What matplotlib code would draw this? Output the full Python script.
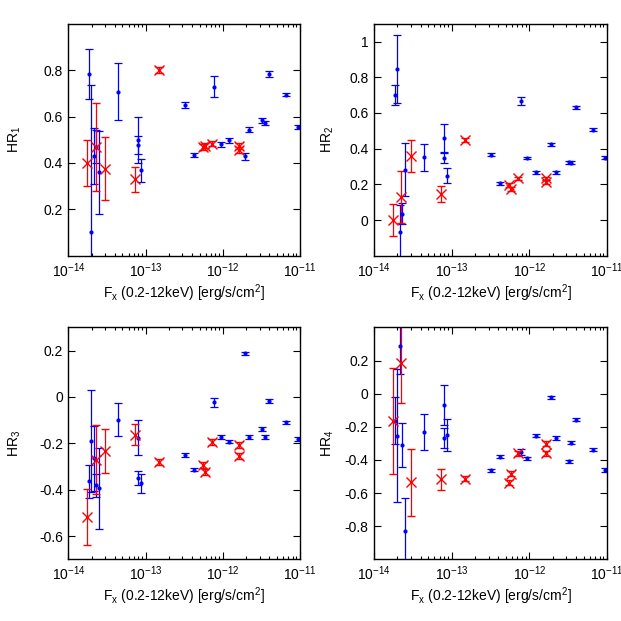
import numpy as np
import matplotlib
matplotlib.use("Agg")
import matplotlib.pyplot as plt
from matplotlib.ticker import LogLocator, FixedLocator, FuncFormatter, NullFormatter

"""
Hardness ratios vs. flux, four panels (HR1..HR4)
"""

plt.rcParams['font.family'] = ['Liberation Sans', 'DejaVu Sans']
plt.rcParams['font.size'] = 10
plt.rcParams['mathtext.fontset'] = 'custom'
plt.rcParams['mathtext.rm'] = 'Liberation Sans'
plt.rcParams['mathtext.it'] = 'Liberation Sans:italic'

# flux values (erg/s/cm2)
blue_flux = [1.86e-14, 1.95e-14, 2.16e-14, 2.26e-14, 2.47e-14, 4.37e-14, 7.94e-14, 7.94e-14,
             8.71e-14, 3.24e-13, 4.22e-13, 7.76e-13, 9.33e-13, 1.21e-12, 1.92e-12, 2.19e-12,
             3.24e-12, 3.47e-12, 3.94e-12, 6.61e-12, 9.44e-12]
red_flux = [1.74e-14, 2.24e-14, 2.95e-14, 7.24e-14, 1.48e-13, 5.50e-13, 5.82e-13, 7.24e-13,
            1.62e-12, 1.62e-12]

blue_hr1 = [0.784, 0.103, 0.43, 0.47, 0.359, 0.708, 0.499, 0.477, 0.368, 0.65, 0.434, 0.728,
            0.48, 0.498, 0.428, 0.544, 0.584, 0.572, 0.783, 0.695, 0.555]
blue_hr1_err = [0.107, 0.635, 0.12, 0.07, 0.18, 0.122, 0.10, 0.04, 0.05, 0.012, 0.01, 0.045,
                0.01, 0.01, 0.015, 0.01, 0.01, 0.01, 0.012, 0.008, 0.01]
blue_hr2 = [0.702, 0.845, -0.065, 0.036, 0.283, 0.352, 0.459, 0.348, 0.249, 0.367, 0.206, 0.667,
            0.348, 0.268, 0.424, 0.268, 0.324, 0.322, 0.631, 0.506, 0.35]
blue_hr2_err = [0.055, 0.19, 0.15, 0.06, 0.15, 0.076, 0.077, 0.03, 0.04, 0.008, 0.008, 0.025,
                0.008, 0.008, 0.01, 0.008, 0.008, 0.008, 0.008, 0.008, 0.008]
blue_hr3 = [-0.364, -0.191, -0.265, -0.381, -0.393, -0.098, -0.175, -0.349, -0.373, -0.25, -0.313,
            -0.023, -0.174, -0.192, 0.188, -0.172, -0.139, -0.172, -0.017, -0.11, -0.181]
blue_hr3_err = [0.07, 0.22, 0.14, 0.05, 0.175, 0.072, 0.075, 0.03, 0.04, 0.01, 0.008, 0.02,
                0.008, 0.008, 0.008, 0.008, 0.008, 0.008, 0.008, 0.008, 0.008]
blue_hr4 = [-0.163, -0.253, 0.291, -0.31, -0.827, -0.233, -0.07, -0.267, -0.249, -0.462, -0.38,
            -0.353, -0.39, -0.253, -0.022, -0.267, -0.408, -0.295, -0.157, -0.339, -0.46]
blue_hr4_err = [0.14, 0.4, 0.17, 0.135, 0.2, 0.11, 0.12, 0.06, 0.095, 0.01, 0.01, 0.02,
                0.01, 0.01, 0.01, 0.01, 0.01, 0.01, 0.01, 0.01, 0.01]

red_hr1 = [0.40, 0.469, 0.375, 0.329, 0.80, 0.468, 0.475, 0.483, 0.473, 0.455]
red_hr1_err = [0.10, 0.19, 0.135, 0.054, 0.012, 0.012, 0.012, 0.012, 0.012, 0.012]
red_hr2 = [0.0, 0.129, 0.358, 0.148, 0.448, 0.195, 0.174, 0.233, 0.233, 0.213]
red_hr2_err = [0.09, 0.145, 0.09, 0.045, 0.01, 0.01, 0.01, 0.01, 0.01, 0.01]
red_hr3 = [-0.518, -0.27, -0.231, -0.162, -0.28, -0.293, -0.324, -0.194, -0.208, -0.255]
red_hr3_err = [0.12, 0.15, 0.095, 0.046, 0.012, 0.012, 0.012, 0.012, 0.012, 0.012]
red_hr4 = [-0.165, 0.183, -0.536, -0.518, -0.514, -0.538, -0.484, -0.361, -0.303, -0.361]
red_hr4_err = [0.32, 0.24, 0.2, 0.063, 0.015, 0.015, 0.015, 0.015, 0.015, 0.015]

ylabels = ["HR$_1$", "HR$_2$", "HR$_3$", "HR$_4$"]
ylims = [(0, 1.0), (-0.2, 1.1), (-0.7, 0.3), (-1.0, 0.4)]
yticks = [[0.2, 0.4, 0.6, 0.8], [0, 0.2, 0.4, 0.6, 0.8, 1.0],
          [-0.6, -0.4, -0.2, 0, 0.2], [-0.8, -0.6, -0.4, -0.2, 0, 0.2]]
blue_data = [(blue_hr1, blue_hr1_err), (blue_hr2, blue_hr2_err),
             (blue_hr3, blue_hr3_err), (blue_hr4, blue_hr4_err)]
red_data = [(red_hr1, red_hr1_err), (red_hr2, red_hr2_err),
            (red_hr3, red_hr3_err), (red_hr4, red_hr4_err)]

# axes rectangles in figure fractions
boxes = [[0.1103, 0.5882, 0.3728, 0.3735], [0.6023, 0.5882, 0.3752, 0.3735],
         [0.1103, 0.0994, 0.3728, 0.3733], [0.6023, 0.0994, 0.3752, 0.3733]]
ylab_x = [-0.197, -0.163, -0.197, -0.163]


def tick_fmt(v, pos):
    e = int(round(np.log10(v)))
    return r"10$^{%d}$" % e


fig = plt.figure(figsize=(6.21, 6.21), dpi=100)
for i in range(4):
    ax = fig.add_axes(boxes[i])
    hr, err = blue_data[i]
    ax.errorbar(blue_flux, hr, yerr=err, fmt='o', color='#0000ff', ms=2.0,
                elinewidth=0.9, capsize=3, capthick=0.9)
    hr, err = red_data[i]
    ax.errorbar(red_flux, hr, yerr=err, fmt='x', color='#ff0000', ms=7, mew=1.0,
                elinewidth=0.9, capsize=3.2, capthick=0.9)
    ax.set_xscale('log')
    ax.set_xlim(1e-14, 1e-11)
    ax.set_ylim(*ylims[i])
    ax.xaxis.set_major_locator(LogLocator(base=10, numticks=10))
    ax.xaxis.set_minor_locator(LogLocator(base=10, subs=np.arange(2, 10), numticks=10))
    ax.xaxis.set_major_formatter(FuncFormatter(tick_fmt))
    ax.xaxis.set_minor_formatter(NullFormatter())
    ax.yaxis.set_major_locator(FixedLocator(yticks[i]))
    ax.yaxis.set_major_formatter(FuncFormatter(lambda v, p: "%g" % v))
    ax.tick_params(which='both', direction='in', top=True, right=True, width=0.8)
    ax.tick_params(which='major', length=5, labelsize=10, pad=4)
    ax.tick_params(which='minor', length=2.5)
    for s in ax.spines.values():
        s.set_linewidth(1.0)
    ax.set_xlabel("F$_\\mathrm{x}$ (0.2-12keV) [erg/s/cm$^2$]", fontsize=10, labelpad=1.5)
    ax.set_ylabel(ylabels[i], fontsize=10)
    ax.yaxis.set_label_coords(ylab_x[i], 0.5)

plt.savefig("out.png", dpi=100)
plt.close()
